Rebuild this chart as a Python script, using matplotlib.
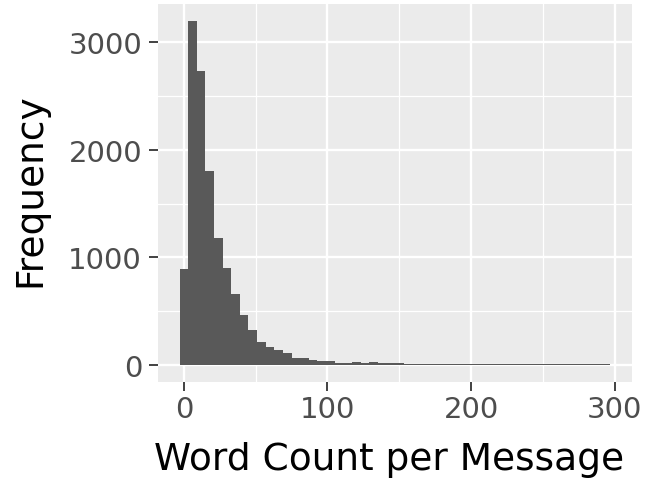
import numpy as np
import matplotlib.pyplot as plt

# histogram of word counts per message, bin width 6 centred on 0, 6, 12, ...
bin_width = 6
counts = [895, 3197, 2731, 1799, 1184, 904, 655, 466, 326, 212,
          168, 140, 106, 62, 62, 44, 35, 35, 20, 20,
          28, 20, 28, 16, 16, 16, 9, 9, 8, 8,
          8, 7, 7, 7, 7, 6, 6, 6, 6, 6,
          6, 6, 6, 6, 6, 6, 6, 6, 6, 6]
x_ticks = [0, 100, 200, 300]
y_ticks = [0, 1000, 2000, 3000]

centers = np.arange(len(counts)) * bin_width

fig = plt.figure(figsize=(6.46, 4.81), dpi=100)
ax = fig.add_axes([158 / 646, 1 - 383 / 481, (632 - 158) / 646, (383 - 5) / 481])

ax.set_facecolor('#EBEBEB')
ax.bar(centers, counts, width=bin_width, color='#595959', linewidth=0, zorder=3)

# ggplot-like 5% expansion
lo = centers[0] - bin_width / 2
hi = centers[-1] + bin_width / 2
ax.set_xlim(lo - 0.05 * (hi - lo), hi + 0.05 * (hi - lo))
ymax = max(counts)
ax.set_ylim(-0.05 * ymax, 1.05 * ymax)

ax.set_xticks(x_ticks)
ax.set_yticks(y_ticks)
ax.set_xticks([50, 150, 250], minor=True)
ax.set_yticks([500, 1500, 2500], minor=True)
ax.grid(which='major', color='white', linewidth=1.7, zorder=1)
ax.grid(which='minor', color='white', linewidth=0.9, zorder=1)
ax.set_axisbelow(True)

for s in ax.spines.values():
    s.set_visible(False)

ax.tick_params(which='major', length=6.5, width=1.3, color='#333333',
               labelsize=21, labelcolor='#4D4D4D', pad=3)
ax.tick_params(which='minor', length=0)
ax.tick_params(axis='y', pad=5)

ax.set_xlabel('Word Count per Message', fontsize=27, color='black', labelpad=13)
ax.set_ylabel('Frequency', fontsize=27, color='black', labelpad=14)
ax.xaxis.label.set_x(0.487)
ax.yaxis.label.set_y(0.511)

fig.savefig('out.png', dpi=100)
